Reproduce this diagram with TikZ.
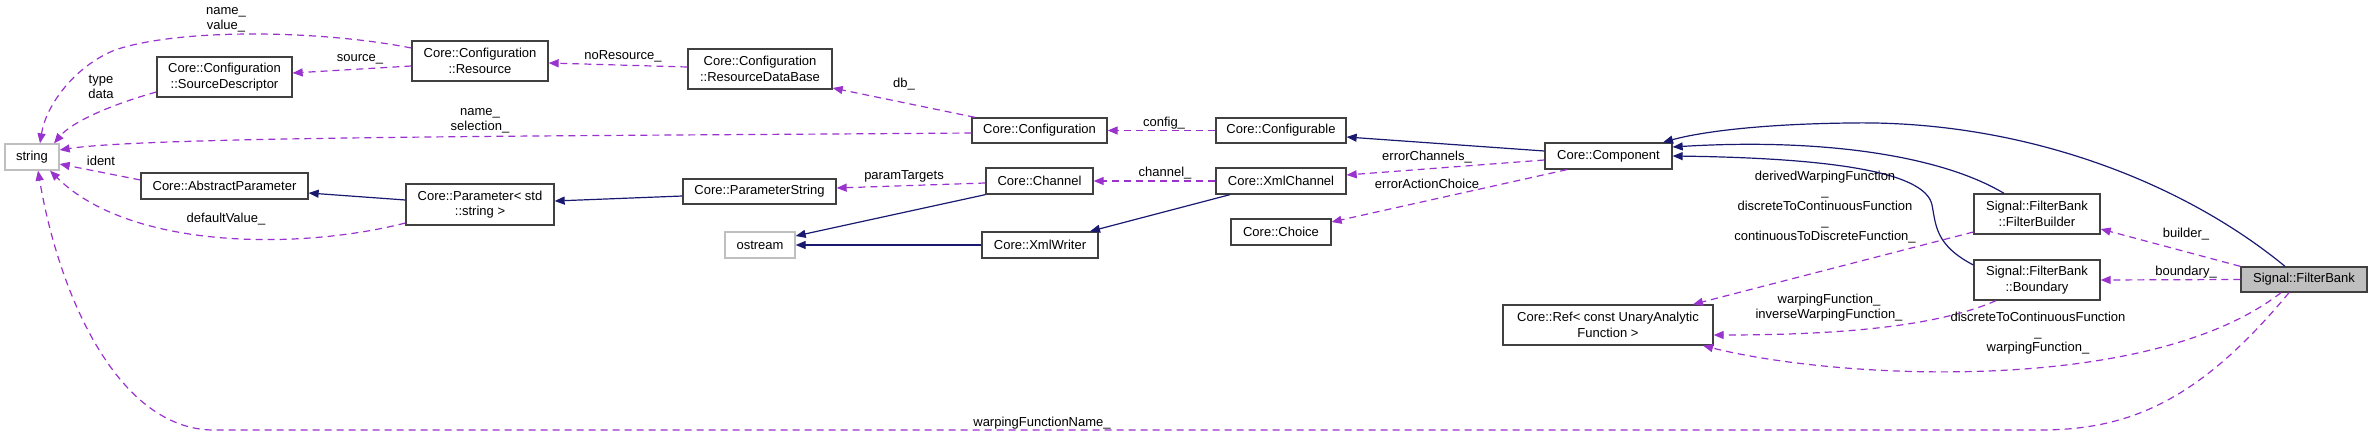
\documentclass[tikz,border=0pt]{standalone}
\usepackage{fontspec}
\setmainfont{Liberation Sans}
\usetikzlibrary{arrows.meta,calc}
\definecolor{navy}{HTML}{191970}
\definecolor{orchid}{HTML}{9A32CD}
\definecolor{lgrey}{HTML}{BFBFBF}
\definecolor{dgrey}{HTML}{404040}
\begin{document}
\begin{tikzpicture}[x=1pt,y=-1pt,
  box/.style={draw=dgrey, line width=1.3pt, inner sep=0pt, align=center, font=\fontsize{13}{15.5}\selectfont},
  ext/.style={box, draw=lgrey},
  hl/.style={box, fill=lgrey},
  dep/.style={draw=orchid, line width=1.2pt, dash pattern=on 7pt off 5pt, -{Triangle[length=10pt,width=8pt]}},
  inh/.style={draw=navy, line width=1.2pt, -{Triangle[length=10pt,width=8pt]}},
  lbl/.style={inner sep=0pt, align=center, font=\fontsize{13}{15}\selectfont}
]
\useasboundingbox (0,0) rectangle (2372,436);

% nodes
\node[ext, minimum width=54pt, minimum height=26pt] (str) at (32,157) {string};
\node[box, minimum width=135pt, minimum height=40pt] (sd) at (224.5,77) {Core::Configuration\\::SourceDescriptor};
\node[box, minimum width=136pt, minimum height=40pt] (res) at (480,61) {Core::Configuration\\::Resource};
\node[box, minimum width=167pt, minimum height=26pt] (ap) at (224.5,186) {Core::AbstractParameter};
\node[box, minimum width=148pt, minimum height=41pt] (par) at (480,204.5) {Core::Parameter< std\\::string >};
\node[box, minimum width=144pt, minimum height=40pt] (rdb) at (760,69) {Core::Configuration\\::ResourceDataBase};
\node[box, minimum width=135pt, minimum height=25pt] (conf) at (1039.5,130.5) {Core::Configuration};
\node[box, minimum width=153pt, minimum height=25pt] (ps) at (759.5,191.5) {Core::ParameterString};
\node[box, minimum width=107pt, minimum height=26pt] (ch) at (1039.5,181) {Core::Channel};
\node[ext, minimum width=70pt, minimum height=26pt] (ost) at (760,245) {ostream};
\node[box, minimum width=116pt, minimum height=26pt] (xw) at (1040,245) {Core::XmlWriter};
\node[box, minimum width=130pt, minimum height=25pt] (cfg) at (1281,130.5) {Core::Configurable};
\node[box, minimum width=130pt, minimum height=26pt] (xch) at (1281,181) {Core::XmlChannel};
\node[box, minimum width=100pt, minimum height=26pt] (cho) at (1281,232) {Core::Choice};
\node[box, minimum width=127pt, minimum height=26pt] (comp) at (1608.5,156) {Core::Component};
\node[box, minimum width=210pt, minimum height=40pt] (ref) at (1608,325) {Core::Ref< const UnaryAnalytic\\Function >};
\node[box, minimum width=126pt, minimum height=40pt] (fbu) at (2037,214) {Signal::FilterBank\\::FilterBuilder};
\node[box, minimum width=126pt, minimum height=40pt] (bnd) at (2037,280) {Signal::FilterBank\\::Boundary};
\node[hl, minimum width=126pt, minimum height=25pt] (fb) at (2304,279.5) {Signal::FilterBank};

% edges
\draw[dep] (res.west |- 0,48) .. controls (320,30) and (180,28) .. (115,50) .. controls (75,66) and (46,105) .. (40,0 |- str.north);
\draw[dep] (sd.west |- 0,92) .. controls (110,105) and (72,122) .. (54,0 |- str.north);
\draw[dep] (res.west |- 0,66) -- (sd.east |- 0,73);
\draw[dep] (rdb.west |- 0,67) -- (res.east |- 0,63);
\draw[dep] (975,0 |- conf.north) -- (rdb.east |- 0,88);
\draw[dep] (conf.west |- 0,133) .. controls (600,136) and (150,136) .. (str.east |- 0,150);
\draw[dep] (cfg.west) -- (conf.east);
\draw[inh] (comp.west |- 0,151) -- (cfg.east |- 0,137);
\draw[dep] (ap.west |- 0,180) -- (str.east |- 0,164);
\draw[inh] (par.west |- 0,200) -- (ap.east |- 0,193);
\draw[dep] (par.west |- 0,223) .. controls (300,250) and (130,250) .. (50,0 |- str.south);
\draw[inh] (ps.west |- 0,196) -- (par.east |- 0,201);
\draw[dep] (ch.west |- 0,183) -- (ps.east |- 0,188);
\draw[dep] (xch.west) -- (ch.east);
\draw[inh] (ch.south west) -- (ost.east |- 0,236);
\draw[inh] (xw.west) -- (ost.east);
\draw[inh] (1230,0 |- xch.south) -- (1090,0 |- xw.north);
\draw[dep] (comp.west |- 0,160) -- (xch.east |- 0,175);
\draw[dep] (1567,0 |- comp.south) -- (cho.east |- 0,222);
\draw[inh] (2285,0 |- fb.north) .. controls (2180,180) and (2020,120) .. (1850,123) .. controls (1760,124) and (1700,132) .. (1663,0 |- comp.north);
\draw[inh] (2004,0 |- fbu.north) .. controls (1940,155) and (1820,138) .. (comp.east |- 0,147);
\draw[inh] (bnd.west |- 0,265) .. controls (1935,245) and (1936,225) .. (1932,205) .. controls (1925,170) and (1820,158) .. (comp.east |- 0,156);
\draw[dep] (fb.north west) -- (fbu.east |- 0,229);
\draw[dep] (fb.west) -- (bnd.east |- 0,280);
\draw[dep] (fbu.west |- 0,232) -- (1693,0 |- ref.north);
\draw[dep] (1996,0 |- bnd.south) .. controls (1940,325) and (1850,335) .. (ref.east |- 0,335);
\draw[dep] (2281,0 |- fb.south) .. controls (2150,395) and (1840,380) .. (1703,0 |- ref.south);
\draw[dep] (2289,0 |- fb.south) .. controls (2200,400) and (2130,430) .. (2040,430) -- (214,430) .. controls (120,430) and (60,300) .. (38,0 |- str.south);

% labels
\node[lbl] (l1) at (226,19.5) {name\_\\value\_};
\node[lbl] (l2) at (101,87) {type\\data};
\node[lbl] (l3) at (360,59) {source\_};
\node[lbl] (l4) at (623,56) {noResource\_};
\node[lbl] (l5) at (904,84) {db\_};
\node[lbl] (l6) at (480,120.5) {name\_\\selection\_};
\node[lbl] (l7) at (1164,123) {config\_};
\node[lbl] (l8) at (101,161) {ident};
\node[lbl] (l9) at (226,219) {defaultValue\_};
\node[lbl] (l10) at (904,176) {paramTargets};
\node[lbl] (l11) at (1165,173) {channel\_};
\node[lbl] (l12) at (1427,157) {errorChannels\_};
\node[lbl] (l13) at (1427,184) {errorActionChoice};
\node[lbl] (l14) at (1825,207) {derivedWarpingFunction\\\_\\discreteToContinuousFunction\\\_\\continuousToDiscreteFunction\_};
\node[lbl] (l15) at (2186,234) {builder\_};
\node[lbl] (l16) at (2186,272) {boundary\_};
\node[lbl] (l17) at (1829,308) {warpingFunction\_\\inverseWarpingFunction\_};
\node[lbl] (l18) at (2038,333.5) {discreteToContinuousFunction\\\_\\warpingFunction\_};
\node[lbl] (l19) at (1042,423) {warpingFunctionName\_};
\end{tikzpicture}
\end{document}
